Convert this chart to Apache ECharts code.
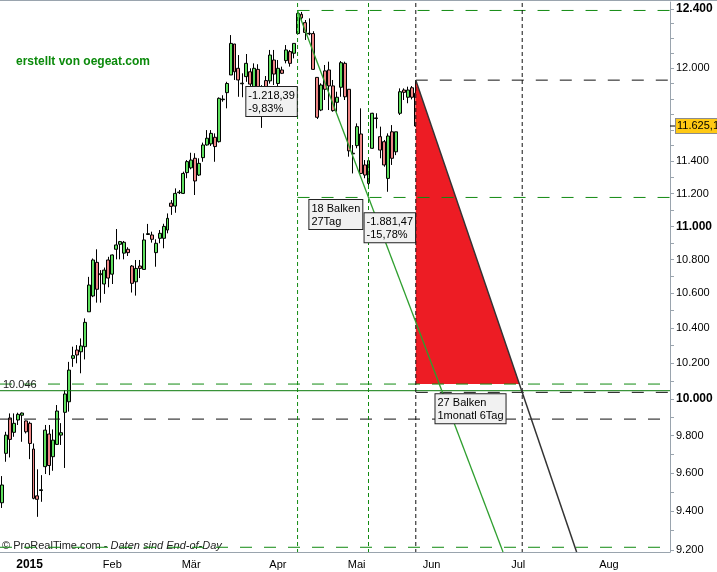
<!DOCTYPE html>
<html><head><meta charset="utf-8">
<script src="https://cdn.jsdelivr.net/npm/echarts@6/dist/echarts.min.js"></script>
<style>html,body{margin:0;padding:0;background:#fff}#c{width:717px;height:572px}</style>
</head><body><div id="c"></div><script>
// ---------- data ----------
const holidays = ['2014-12-24','2014-12-25','2014-12-26','2014-12-31','2015-01-01','2015-04-03','2015-04-06','2015-05-01','2015-05-25'];
const monthNames = ['Jan','Feb','Mär','Apr','Mai','Jun','Jul','Aug','Sep','Okt','Nov','Dez'];
const openValues = [9444,9705,9896,9818,9885,9911,9880,9867,9728,9480,9508,9634,9809,9687,9753,9803,9927,9985,10227,10274,
 10264,10293,10493,10585,10783,10710,10655,10797,10713,10861,10891,10838,10861,10761,10668,10761,10741,10950,10947,10841,
 10927,10927,10977,11141,11123,11205,11201,11330,11360,11420,11315,11424,11504,11511,11553,11525,11795,11841,11957,12163,
 12001,11899,11946,11978,11879,11994,11840,11920,11918,12056,11901,11990,12052,12112,12101,12233,12364,12307,12231,12233,
 11941,11728,11984,11990,11885,11778,11876,12034,11863,11448,11500,11574,11378,11263,11483,11673,11557,11525,11294,11588,
 11461,11707,11858,11811,11873,11837];
const closeValues = [9537,9803,9780,9867,9916,9923,9821,9758,9467,9462,9512,9830,9640,9776,9934,9816,10028,10161,10242,10246,
 10297,10432,10649,10797,10624,10716,10737,10690,10827,10887,10907,10903,10841,10659,10747,10747,10917,10955,10921,10897,
 10957,10999,11048,11121,11201,11209,11325,11399,11409,11278,11388,11504,11547,11578,11494,11804,11799,11901,12167,11978,
 11924,11903,12034,11897,12001,11837,11865,11850,12089,11963,12001,11968,12123,12034,12167,12370,12339,12241,12235,11994,
 11681,11891,11863,11885,11724,11811,12038,11814,11467,11452,11621,11325,11315,11405,11707,11677,11472,11378,11561,11420,
 11588,11847,11843,11858,11811,11625.1];
const lowValues = [9417,9660,9683,9794,9858,9767,9812,9674,9462,9371,9449,9595,9589,9612,9750,9750,9627,9931,10179,10199,
 10143,10221,10493,10578,10546,10546,10597,10636,10655,10801,10801,10801,10821,10605,10587,10690,10741,10947,10901,10757,
 10897,10867,10957,11069,11082,11197,11197,11295,11351,11191,11309,11398,11500,11498,11398,11520,11782,11739,11957,11924,
 11814,11811,11912,11814,11814,11793,11613,11800,11900,11891,11883,11963,12034,12012,12067,12233,12327,12190,12222,11990,
 11670,11721,11793,11728,11717,11717,11814,11793,11430,11325,11483,11321,11295,11253,11480,11610,11420,11367,11211,11378,
 11440,11696,11793,11772,11797,11620];
const highValues = [9584,9821,9921,9921,9925,9926,9882,9876,9758,9620,9589,9858,9858,9834,9967,9868,10050,10207,10293,10302,
 10340,10455,10697,10806,10861,10737,10752,10816,10830,10983,10911,10911,10873,10767,10797,10797,10957,11014,10967,10921,
 10977,11015,11078,11160,11232,11222,11336,11409,11455,11452,11420,11519,11599,11599,11578,11810,11824,11912,12223,12163,
 12089,11968,12096,12001,12034,12028,11890,11950,12123,12123,12056,12012,12156,12123,12167,12390,12380,12325,12336,12249,
 11941,11902,12023,12045,11924,11847,12049,12045,11863,11504,11642,11739,11409,11413,11710,11707,11621,11536,11578,11631,
 11588,11869,11869,11880,11884,11923];
const yLabelValues = [12400,12000,11400,11200,11000,10800,10600,10400,10200,10000,9800,9600,9400,9200];
const yBoldValues = [12400,11000,10000];
// analysis levels (prices)
const athLevel = 12390, swingLow = 11176, triTop = 11923, triBottom = 10083, supportLevel = 10046, blackTargetLevel = 10037, lowerDash = 9890, bottomDash = 9215;
const lastClose = 11625.1;
// bar indices of the analysis marks
const idxHigh = 75, idxLow18 = 93, idxLast = 105, idxTarget = 132;

// ---------- helpers ----------
const L = Math.log;
const FONT = '"Liberation Sans", Arial, sans-serif';
const categories = (function () {
  const out = [], hol = new Set(holidays);
  const d = new Date(Date.UTC(2014, 11, 17)), end = Date.UTC(2015, 7, 24);
  while (d.getTime() <= end) {
    const wd = d.getUTCDay(), s = d.toISOString().slice(0, 10);
    if (wd !== 0 && wd !== 6 && !hol.has(s)) out.push(s);
    d.setUTCDate(d.getUTCDate() + 1);
  }
  return out;
})();
const isMonthStart = i => i > 0 && categories[i].slice(5, 7) !== categories[i - 1].slice(5, 7);
const fmtThousands = p => String(p).replace(/\B(?=(\d{3})+(?!\d))/g, '.');
const yTicks = []; for (let v = 9200; v <= 12400; v += 100) yTicks.push(L(v));

const candleData = openValues.map((o, i) => [L(o), L(closeValues[i]), L(lowValues[i]), L(highValues[i])]);

const notes = [
  { cat: 62, price: 11878, text: '-1.218,39\n-9,83%' },
  { cat: 78, price: 11160, text: '18 Balken\n27Tag' },
  { cat: 92, price: 11079, text: '-1.881,47\n-15,78%' },
  { cat: 110, price: 10026, text: '27 Balken\n1monatl 6Tag' }
];

function renderOverlay(params, api) {
  const cs = params.coordSys;
  const x0 = cs.x, x1 = cs.x + cs.width, y0 = cs.y, y1 = cs.y + cs.height;
  const P = (i, v) => api.coord([i, L(v)]);
  const Y = v => api.coord([0, L(v)])[1];
  const X = i => api.coord([i, L(10000)])[0];
  const ch = [];
  const G = '#118a11', K = '#111';
  const hline = (y, xa, col, dash) => ch.push({ type: 'line', shape: { x1: xa, y1: y, x2: x1, y2: y }, style: { stroke: col, lineWidth: 1, lineDash: dash } });
  const vline = (x, col) => ch.push({ type: 'line', shape: { x1: x, y1: y0 + 1, x2: x, y2: y1 }, style: { stroke: col, lineWidth: 1, lineDash: [4, 3] } });
  // red triangle
  const pTop = P(idxLast, triTop), pT = P(idxTarget, blackTargetLevel);
  const yb = Y(triBottom);
  const xi = pTop[0] + (yb - pTop[1]) / (pT[1] - pTop[1]) * (pT[0] - pTop[0]);
  ch.push({ type: 'polygon', shape: { points: [[pTop[0], pTop[1]], [pTop[0], yb], [xi, yb]] }, style: { fill: '#ed1c24' } });
  // horizontal levels
  hline(Y(athLevel), X(idxHigh), G, [12, 12]);
  hline(Y(swingLow), X(idxHigh), G, [12, 12]);
  hline(Y(triTop), X(idxLast), K, [12, 12]);
  hline(Y(triBottom), x0, G, [12, 12]);
  ch.push({ type: 'line', shape: { x1: x0, y1: Y(supportLevel), x2: x1, y2: Y(supportLevel) }, style: { stroke: '#0a7a0a', lineWidth: 1 } });
  hline(Y(blackTargetLevel), X(idxLast), K, [12, 12]);
  hline(Y(lowerDash), x0, K, [12, 12]);
  hline(Y(bottomDash), x0, G, [12, 12]);
  // vertical markers
  vline(X(idxHigh), G);
  vline(X(idxLow18), G);
  vline(X(idxLast), K);
  vline(X(idxTarget), K);
  // trend lines, extended to the bottom of the plot
  const ext = (a, b) => { const t = (y1 - a[1]) / (b[1] - a[1]); return [a[0] + t * (b[0] - a[0]), y1]; };
  const gA = P(idxHigh, athLevel), gB = P(idxLow18, swingLow), gE = ext(gA, gB);
  ch.push({ type: 'line', shape: { x1: gA[0], y1: gA[1], x2: gE[0], y2: gE[1] }, style: { stroke: '#2f9f2f', lineWidth: 1.3 } });
  const kE = ext(pTop, pT);
  ch.push({ type: 'line', shape: { x1: pTop[0], y1: pTop[1], x2: kE[0], y2: kE[1] }, style: { stroke: '#333', lineWidth: 1.5 } });
  // note boxes
  notes.forEach(n => {
    const p = P(n.cat, n.price);
    ch.push({ type: 'text', style: { text: n.text, x: p[0], y: p[1], align: 'left', verticalAlign: 'top', fontSize: 11, fontFamily: FONT, fill: '#000', lineHeight: 13, backgroundColor: '#f1f1f1', borderColor: '#222', borderWidth: 1, padding: [2, 2, 1, 2] } });
  });
  // support label
  ch.push({ type: 'text', style: { text: fmtThousands(supportLevel), x: x0 + 3, y: Y(supportLevel), align: 'left', verticalAlign: 'bottom', fontSize: 11, fontFamily: FONT, fill: '#222' } });
  // last price marker
  const yl = Y(lastClose);
  ch.push({ type: 'line', shape: { x1: x1, y1: yl, x2: x1 + 5, y2: yl }, style: { stroke: '#000', lineWidth: 1 } });
  ch.push({ type: 'text', style: { text: '11.625,1', x: x1 + 6, y: yl, align: 'left', verticalAlign: 'middle', fontSize: 11, fontFamily: FONT, fill: '#000', backgroundColor: '#ffc914', borderColor: '#8c8c8c', borderWidth: 1, padding: [2, 3, 1, 1] } });
  return { type: 'group', children: ch };
}

const chart = echarts.init(document.getElementById('c'), null, { renderer: 'canvas' });
chart.setOption({
  animation: false,
  backgroundColor: '#fff',
  grid: { left: 0, right: 47, top: 2, bottom: 20, containLabel: false },
  xAxis: {
    type: 'category', data: categories, boundaryGap: true,
    axisLine: { lineStyle: { color: '#9aa4ae', width: 1 } },
    axisTick: { alignWithLabel: true, interval: (i) => isMonthStart(i), length: 4, lineStyle: { color: '#9aa4ae' } },
    axisLabel: {
      interval: (i) => isMonthStart(i), margin: 7, color: '#000', fontSize: 11, fontFamily: FONT,
      formatter: v => { const m = +v.slice(5, 7); return m === 1 ? '{b|' + v.slice(0, 4) + '}' : monthNames[m - 1]; },
      rich: { b: { fontWeight: 'bold', fontSize: 12, fontFamily: FONT, color: '#000' } }
    },
    splitLine: { show: false }
  },
  yAxis: {
    type: 'value', position: 'right', scale: true,
    min: L(9191), max: L(12448),
    axisLine: { show: true, lineStyle: { color: '#9aa4ae' } },
    axisTick: { show: true, customValues: yTicks, length: 4, lineStyle: { color: '#9aa4ae' } },
    axisLabel: {
      customValues: yLabelValues.map(L), margin: 6, color: '#000', fontSize: 11, fontFamily: FONT,
      formatter: v => { const p = Math.round(Math.exp(v)); const s = fmtThousands(p); return yBoldValues.includes(p) ? '{b|' + s + '}' : s; },
      rich: { b: { fontWeight: 'bold', fontSize: 12, fontFamily: FONT, color: '#000' } }
    },
    splitLine: { show: false }
  },
  series: [
    {
      type: 'candlestick', data: candleData, barWidth: 3.4, z: 2,
      itemStyle: { color: '#5fe05f', color0: '#ee8686', borderColor: '#000', borderColor0: '#000', borderWidth: 1 }
    },
    { type: 'custom', z: 5, silent: true, clip: false, data: [[0, L(10000)]], renderItem: renderOverlay }
  ],
  graphic: [
    { type: 'rect', left: 0, top: 0, shape: { width: 717, height: 1 }, style: { fill: '#9aa4ae' } },
    { type: 'text', left: 16, top: 56, style: { text: 'erstellt von oegeat.com', fontSize: 12, fontWeight: 'bold', fontFamily: FONT, fill: '#0b8a0b' } },
    { type: 'text', left: 2, top: 540, style: { text: '{a|© ProRealTime.com - }{i|Daten sind End-of-Day}', rich: { a: { fontSize: 11, fontFamily: FONT, fill: '#222' }, i: { fontSize: 11, fontStyle: 'italic', fontFamily: FONT, fill: '#222' } } } }
  ]
});
</script></body></html>
